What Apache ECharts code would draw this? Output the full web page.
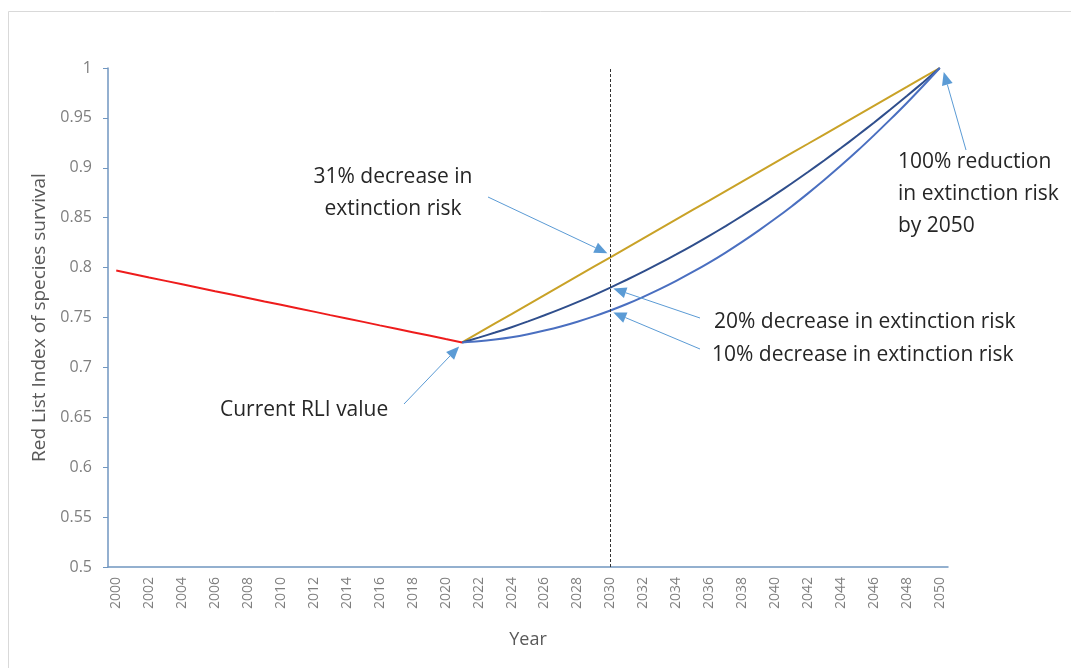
<!DOCTYPE html>
<html><head><meta charset="utf-8">
<script src="https://cdn.jsdelivr.net/npm/echarts@6/dist/echarts.min.js"></script>
<style>html,body{margin:0;padding:0;background:#fff}#c{width:1071px;height:668px}</style>
</head><body><div id="c"></div>
<script>
const years = [];
for (let y = 2000; y <= 2050; y++) years.push(String(y));

const historic = [0.7970,0.7936,0.7901,0.7867,0.7833,0.7799,0.7764,0.7730,0.7696,0.7661,0.7627,0.7593,0.7559,0.7524,0.7490,0.7456,0.7421,0.7387,0.7353,0.7319,0.7284,0.7250];
const dec31 = [0.7250,0.7345,0.7440,0.7534,0.7629,0.7724,0.7819,0.7914,0.8009,0.8103,0.8198,0.8293,0.8388,0.8483,0.8578,0.8672,0.8767,0.8862,0.8957,0.9052,0.9147,0.9241,0.9336,0.9431,0.9526,0.9621,0.9716,0.9810,0.9905,1.0000];
const dec20 = [0.7250,0.7298,0.7349,0.7403,0.7461,0.7522,0.7586,0.7654,0.7725,0.7800,0.7878,0.7959,0.8044,0.8132,0.8223,0.8318,0.8416,0.8518,0.8623,0.8731,0.8843,0.8958,0.9076,0.9198,0.9323,0.9452,0.9584,0.9719,0.9858,1.0000];
const dec10 = [0.7250,0.7262,0.7280,0.7303,0.7333,0.7369,0.7410,0.7458,0.7511,0.7570,0.7635,0.7707,0.7784,0.7867,0.7956,0.8050,0.8151,0.8258,0.8371,0.8489,0.8613,0.8744,0.8880,0.9022,0.9170,0.9325,0.9485,0.9650,0.9822,1.0000];
const futureStart = 21; // index of 2021

function pad(arr, start) {
  const out = new Array(years.length).fill(null);
  arr.forEach((v, i) => out[start + i] = v);
  return out;
}

const FONT = "'Open Sans', 'Liberation Sans', sans-serif";
const AXIS_COLOR = '#7096c0';
const ARROW = '#5b9bd5';
const TXT = '#262626';

const chart = echarts.init(document.getElementById('c'));
chart.setOption({
  animation: false,
  backgroundColor: '#fff',
  grid: { left: 108, right: 123, top: 68, bottom: 101 },
  xAxis: {
    type: 'category', data: years, boundaryGap: true,
    name: 'Year', nameLocation: 'middle', nameGap: 64,
    nameTextStyle: { color: '#595959', fontSize: 18, fontFamily: FONT },
    axisLine: { lineStyle: { color: AXIS_COLOR, width: 1.5 } },
    axisTick: { show: false },
    axisLabel: { interval: 1, rotate: 90, color: '#7f7f7f', fontSize: 14, fontFamily: FONT, margin: 10 }
  },
  yAxis: {
    type: 'value', min: 0.5, max: 1, interval: 0.05,
    name: 'Red List Index of species survival', nameLocation: 'middle', nameGap: 56,
    nameTextStyle: { color: '#595959', fontSize: 19, fontFamily: FONT },
    axisLine: { show: true, lineStyle: { color: AXIS_COLOR, width: 1.5 } },
    axisTick: { show: true, length: 5, lineStyle: { color: AXIS_COLOR } },
    splitLine: { show: false },
    axisLabel: { color: '#7f7f7f', fontSize: 16, fontFamily: FONT, margin: 16 }
  },
  series: [
    { name: 'Historic', type: 'line', data: pad(historic, 0), symbol: 'none',
      lineStyle: { color: '#ee1c1c', width: 2 }, z: 3,
      markLine: { silent: true, symbol: 'none', label: { show: false },
        lineStyle: { color: '#333', type: [3, 2], width: 1 },
        data: [{ xAxis: '2030' }] } },
    { name: '31%', type: 'line', data: pad(dec31, futureStart), symbol: 'none',
      lineStyle: { color: '#c9a227', width: 2 }, z: 2 },
    { name: '20%', type: 'line', data: pad(dec20, futureStart), symbol: 'none', smooth: 0.3,
      lineStyle: { color: '#2f4e8c', width: 2 }, z: 2 },
    { name: '10%', type: 'line', data: pad(dec10, futureStart), symbol: 'none', smooth: 0.3,
      lineStyle: { color: '#4a6fc0', width: 2 }, z: 2 }
  ]
});

function arrow(x1, y1, x2, y2) {
  const ang = Math.atan2(y2 - y1, x2 - x1);
  const L = 13, W = 5.5;
  const bx = x2 - L * Math.cos(ang), by = y2 - L * Math.sin(ang);
  const px = -Math.sin(ang) * W, py = Math.cos(ang) * W;
  return [
    { type: 'line', shape: { x1: x1, y1: y1, x2: bx, y2: by }, style: { stroke: ARROW, lineWidth: 1 }, z: 10 },
    { type: 'polygon', shape: { points: [[x2, y2], [bx + px, by + py], [bx - px, by - py]] }, style: { fill: ARROW }, z: 10 }
  ];
}
function txt(x, y, s, align) {
  return { type: 'text', x: x, y: y, z: 10,
    style: { text: s, fill: TXT, font: "21px " + FONT, textAlign: align || 'left', textVerticalAlign: 'middle', lineHeight: 32 } };
}

const p31 = chart.convertToPixel({ seriesIndex: 0 }, ['2030', dec31[9]]);
const p20 = chart.convertToPixel({ seriesIndex: 0 }, ['2030', dec20[9]]);
const p10 = chart.convertToPixel({ seriesIndex: 0 }, ['2030', dec10[9]]);
const pNow = chart.convertToPixel({ seriesIndex: 0 }, ['2021', historic[historic.length - 1]]);
const pEnd = chart.convertToPixel({ seriesIndex: 0 }, ['2050', dec31[dec31.length - 1]]);

let g = [
  { type: 'rect', shape: { x: 8.5, y: 11.5, width: 1100, height: 700 }, style: { fill: 'none', stroke: '#d9d9d9', lineWidth: 1 }, z: 0 },
  txt(393, 193, '31% decrease in\nextinction risk', 'center'),
  txt(714, 322, '20% decrease in extinction risk'),
  txt(712, 355, '10% decrease in extinction risk'),
  txt(220, 410, 'Current RLI value'),
  txt(898, 194, '100% reduction\nin extinction risk\nby 2050')
];
g = g.concat(arrow(488, 197, p31[0] - 3, p31[1] - 4));
g = g.concat(arrow(700, 318, p20[0] + 3, p20[1] + 1));
g = g.concat(arrow(700, 349, p10[0] + 3, p10[1] + 2));
g = g.concat(arrow(404, 404, pNow[0] - 3, pNow[1] + 4));
g = g.concat(arrow(966, 150, pEnd[0] + 4, pEnd[1] + 4));
chart.setOption({ graphic: g });
</script>
</body></html>
